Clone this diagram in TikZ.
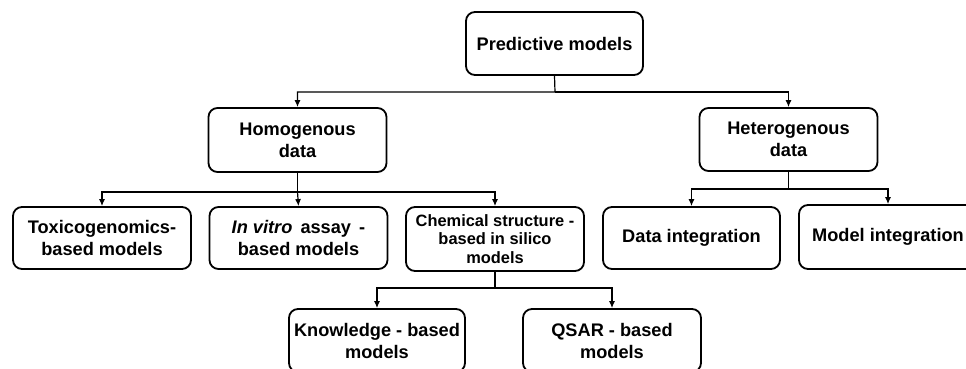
\documentclass[tikz,border=0pt]{standalone}
\usepackage{fontspec}
\setmainfont{Liberation Sans}
\usetikzlibrary{arrows.meta}

\begin{document}
\begin{tikzpicture}[x=1pt, y=-1pt,
    box/.style={draw, line width=1.8pt, rounded corners=9pt, minimum width=178pt, minimum height=63pt, inner sep=0pt, align=center, font=\fontsize{18.2}{22}\selectfont\bfseries},
    link/.style={->, >={Latex[length=7pt,width=6pt]}, line width=1.2pt}]
    \useasboundingbox (0,0) rectangle (966,368);
    \node[box, minimum width=177pt] (pred) at (554.5,43.5) {Predictive models};
    \node[box, minimum height=64pt] (homo) at (297.5,140) {Homogenous\\data};
    \node[box] (hete) at (788.5,139.5) {Heterogenous\\data};
    \node[box, minimum height=62pt] (toxi) at (102,238) {Toxicogenomics-\\based models};
    \node[box, minimum height=62pt] (vitro) at (298.5,238) {\textit{In vitro}\,\ assay\,\ -\\based models};
    \node[box, minimum height=64pt, font=\fontsize{16.4}{18.7}\selectfont\bfseries] (chem) at (495,239) {Chemical structure -\\based in silico\\models};
    \node[box, minimum width=177pt, minimum height=62pt] (dint) at (691.5,238) {Data integration};
    \node[box, minimum height=64pt] (mint) at (888,237) {Model integration};
    \node[box, minimum width=176pt] (know) at (377,340.5) {Knowledge - based\\models};
    \node[box] (qsar) at (612,340.5) {QSAR - based\\models};
    \coordinate (jpred) at (555,92);
    \coordinate (jhomo) at (297.5,192);
    \coordinate (jhete) at (788.5,189);
    \coordinate (jchem) at (495,288);
    \draw[link] (pred.south) -- (jpred) -| (homo.north);
    \draw[link] (jpred) -| (hete.north);
    \draw[link] (homo.south) -- (jhomo) -| (toxi.north);
    \draw[link] (jhomo) -- (vitro.north);
    \draw[link] (jhomo) -| (chem.north);
    \draw[link] (hete.south) -- (jhete) -| (dint.north);
    \draw[link] (jhete) -| (mint.north);
    \draw[link] (chem.south) -- (jchem) -| (know.north);
    \draw[link] (jchem) -| (qsar.north);
\end{tikzpicture}
\end{document}
